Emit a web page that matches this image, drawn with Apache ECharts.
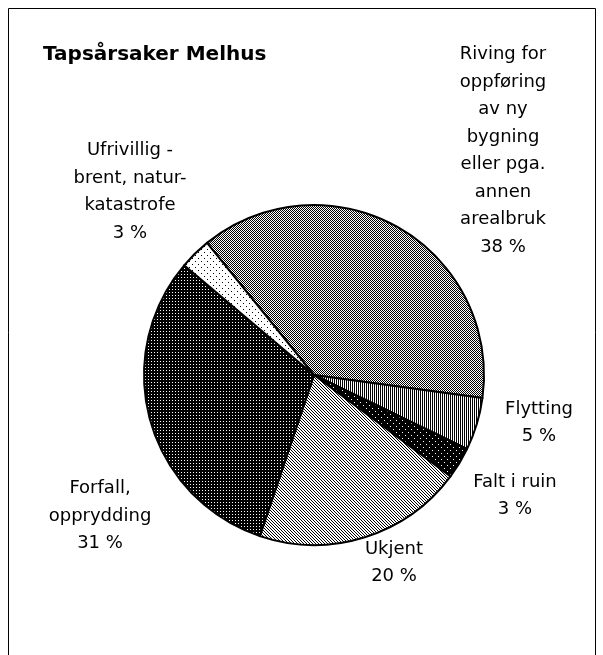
<!DOCTYPE html>
<html>
<head>
<meta charset="utf-8">
<script src="https://cdn.jsdelivr.net/npm/echarts@6/dist/echarts.min.js"></script>
<style>
html,body{margin:0;padding:0;background:#fff;}
#chart{width:603px;height:655px;}
</style>
</head>
<body>
<div id="chart"></div>
<script>
// ---- data ----
const titleText = 'Tapsårsaker Melhus';
const categories = [
  'Riving for\noppføring\nav ny\nbygning\neller pga.\nannen\narealbruk',
  'Flytting',
  'Falt i ruin',
  'Ukjent',
  'Forfall,\nopprydding',
  'Ufrivillig -\nbrent, natur-\nkatastrofe'
];
const values = [38, 5, 3, 20, 31, 3];

// ---- styles (label anchor positions, patterns) ----
const labelPos = [[503, 151], [539, 423], [515, 496], [394, 563], [100, 516], [130, 192]];

function makePattern(w, h, bg, fg, test) {
  const c = document.createElement('canvas');
  c.width = w; c.height = h;
  const ctx = c.getContext('2d');
  ctx.fillStyle = bg; ctx.fillRect(0, 0, w, h);
  ctx.fillStyle = fg;
  for (let y = 0; y < h; y++) for (let x = 0; x < w; x++) if (test(x, y)) ctx.fillRect(x, y, 1, 1);
  return { image: c, repeat: 'repeat' };
}
const patterns = [
  makePattern(2, 2, '#ffffff', '#000000', (x, y) => (x + y) % 2 === 0),            // Riving: checker
  makePattern(2, 1, '#ffffff', '#000000', (x, y) => x === 0),                      // Flytting: vertical lines
  makePattern(6, 6, '#000000', '#ffffff', (x, y) => (x === 0 && y === 0) || (x === 3 && y === 3)), // Falt i ruin
  makePattern(3, 3, '#ffffff', '#000000', (x, y) => (x - y + 3) % 3 === 0),       // Ukjent: diagonal
  makePattern(3, 3, '#000000', '#ffffff', (x, y) => x === 1 && y === 1),          // Forfall: dense white dots
  makePattern(6, 6, '#ffffff', '#000000', (x, y) => (x === 0 && y === 0) || (x === 3 && y === 3))  // Ufrivillig
];

const chart = echarts.init(document.getElementById('chart'), null, { renderer: 'canvas' });
chart.setOption({
  backgroundColor: '#ffffff',
  animation: false,
  title: {
    text: titleText,
    left: 38, top: 40,
    textStyle: { fontFamily: 'DejaVu Sans', fontWeight: 'bold', fontSize: 20, color: '#000' }
  },
  graphic: [{
    type: 'rect', silent: true,
    shape: { x: 8.5, y: 8.5, width: 587, height: 670 },
    style: { fill: 'none', stroke: '#000', lineWidth: 1 }
  }],
  series: [{
    type: 'pie',
    center: [314, 375],
    radius: 170,
    startAngle: 129,
    clockwise: true,
    avoidLabelOverlap: false,
    itemStyle: { borderColor: '#000', borderWidth: 2 },
    label: {
      show: true, position: 'outside',
      formatter: '{b}\n{c} %',
      fontFamily: 'DejaVu Sans', fontSize: 18, lineHeight: 27.5, color: '#000',
      align: 'center'
    },
    labelLine: { show: false },
    labelLayout: function (p) {
      const pos = labelPos[p.dataIndex];
      return { x: pos[0], y: pos[1], align: 'center', verticalAlign: 'middle' };
    },
    emphasis: { disabled: true },
    data: categories.map((n, i) => ({ name: n, value: values[i], itemStyle: { color: patterns[i] } }))
  }]
});
</script>
</body>
</html>
